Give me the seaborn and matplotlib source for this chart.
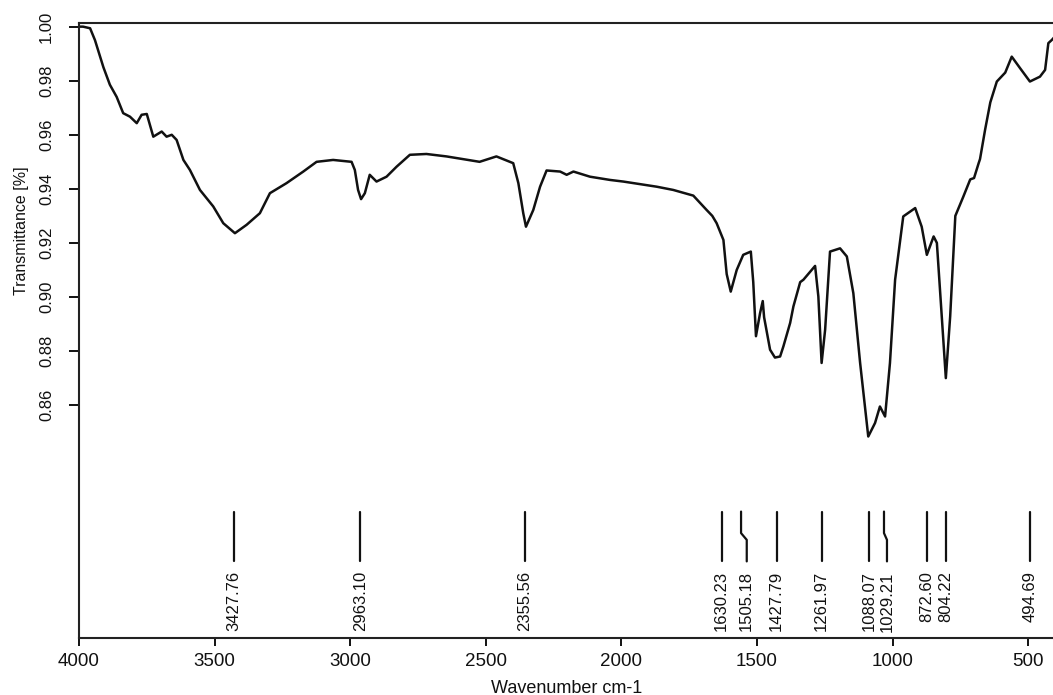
import matplotlib
matplotlib.use('Agg')
import pandas as pd
import matplotlib.pyplot as plt
import seaborn as sns

# FTIR spectrum, values
wavenumber = [4000, 3985, 3959, 3941, 3910, 3886, 3861, 3837, 3812, 3787,
              3769, 3750, 3726, 3695, 3677, 3658, 3640, 3615, 3591, 3554,
              3505, 3468, 3425, 3382, 3333, 3296, 3235, 3173, 3124, 3063,
              2995, 2983, 2971, 2960, 2946, 2928, 2903, 2866, 2829, 2780,
              2719, 2645, 2584, 2523, 2461, 2399, 2380, 2362, 2352, 2325,
              2300, 2276, 2226, 2202, 2177, 2116, 2042, 1993, 1870, 1809,
              1735, 1686, 1665, 1649, 1624, 1612, 1597, 1575, 1551, 1523,
              1514, 1504, 1489, 1479, 1474, 1452, 1434, 1415, 1403, 1378,
              1366, 1341, 1329, 1286, 1274, 1262, 1249, 1231, 1194, 1169,
              1145, 1120, 1090, 1065, 1047, 1028, 1010, 991, 961, 917,
              893, 874, 849, 837, 819, 804, 788, 769, 740, 714,
              700, 683, 678, 659, 640, 616, 585, 561, 530, 494,
              457, 438, 426, 413, 405]
transmittance = [1.000, 1.000, 0.9994, 0.995, 0.985, 0.9785, 0.974, 0.968, 0.9667, 0.9643,
                 0.9674, 0.9677, 0.9593, 0.9612, 0.9593, 0.960, 0.9581, 0.9507, 0.947, 0.9396,
                 0.9335, 0.9273, 0.9236, 0.9267, 0.931, 0.9384, 0.9421, 0.9464, 0.950, 0.9507,
                 0.950, 0.947, 0.9396, 0.9362, 0.9384, 0.9452, 0.9427, 0.9445, 0.9482, 0.9526,
                 0.9529, 0.952, 0.951, 0.950, 0.952, 0.9495, 0.9421, 0.931, 0.926, 0.9322,
                 0.9408, 0.9468, 0.9464, 0.9452, 0.9464, 0.9445, 0.9433, 0.9427, 0.9408, 0.9396,
                 0.9375, 0.9322, 0.930, 0.9273, 0.9211, 0.9085, 0.902, 0.910, 0.9156, 0.9168,
                 0.9055, 0.8855, 0.894, 0.8985, 0.8925, 0.8805, 0.8776, 0.878, 0.8817, 0.8904,
                 0.8965, 0.9055, 0.9064, 0.9115, 0.9002, 0.8756, 0.8879, 0.9168, 0.918, 0.915,
                 0.9014, 0.8756, 0.8484, 0.8534, 0.8595, 0.8558, 0.8756, 0.9064, 0.9298, 0.9329,
                 0.926, 0.9156, 0.9224, 0.920, 0.8928, 0.870, 0.8928, 0.930, 0.937, 0.9435,
                 0.944, 0.9495, 0.951, 0.962, 0.972, 0.9797, 0.9830, 0.9889, 0.9846, 0.9797,
                 0.9815, 0.984, 0.9939, 0.9951, 0.996]

peaks = [3427.76, 2963.10, 2355.56, 1630.23, 1505.18, 1427.79,
         1261.97, 1088.07, 1029.21, 872.60, 804.22, 494.69]
# labels that were pushed aside by the software: (line top x, label x)
nudged = {1505.18: (1559, 1538), 1029.21: (1032, 1021)}

x_ticks = [4000, 3500, 3000, 2500, 2000, 1500, 1000, 500]
y_ticks = [0.86, 0.88, 0.90, 0.92, 0.94, 0.96, 0.98, 1.00]

sns.set_theme(style='ticks')
plt.rcParams['font.family'] = ['Liberation Sans', 'DejaVu Sans']

df = pd.DataFrame({'wn': wavenumber, 'T': transmittance})

fig = plt.figure(figsize=(10.53, 6.95), dpi=100)
ax = fig.add_axes([0.075, 0.0825, 0.926, 0.885])
sns.lineplot(data=df, x='wn', y='T', color='#111111', linewidth=1.8, ax=ax)

ax.set_xlim(4000, 405)
ax.set_ylim(0.774, 1.0015)

# peak markers with rotated labels underneath
trans = ax.get_xaxis_transform()
for p in peaks:
    top_x, lab_x = nudged.get(p, (p, p))
    ax.plot([top_x, top_x, lab_x, lab_x], [0.205, 0.170, 0.159, 0.124],
            color='#111111', lw=1.6, transform=trans)
    ax.text(lab_x, 0.108, f'{p:.2f}', rotation=90, ha='center', va='top',
            fontsize=12, transform=trans, color='#111111')

ax.set_xticks(x_ticks)
ax.set_xticklabels([str(v) for v in x_ticks])
ax.set_yticks(y_ticks)
ax.set_yticklabels([f'{v:.2f}' for v in y_ticks], rotation=90, va='center')
ax.tick_params(axis='x', length=6, width=1.4, pad=5, labelsize=13.5, colors='#111111')
ax.tick_params(axis='y', length=7, width=1.4, pad=11, labelsize=12, colors='#111111')

ax.set_xlabel('Wavenumber cm-1', fontsize=13, color='#111111', va='top')
ax.xaxis.set_label_coords(0.5, -0.069)
ax.set_ylabel('Transmittance [%]', fontsize=11.5, color='#111111', va='center')
ax.yaxis.set_label_coords(-0.059, 0.661)

for side in ['left', 'bottom', 'top']:
    ax.spines[side].set_linewidth(1.5)
    ax.spines[side].set_color('#222222')
ax.spines['right'].set_visible(False)

plt.savefig('out.png', dpi=100)
plt.close()
